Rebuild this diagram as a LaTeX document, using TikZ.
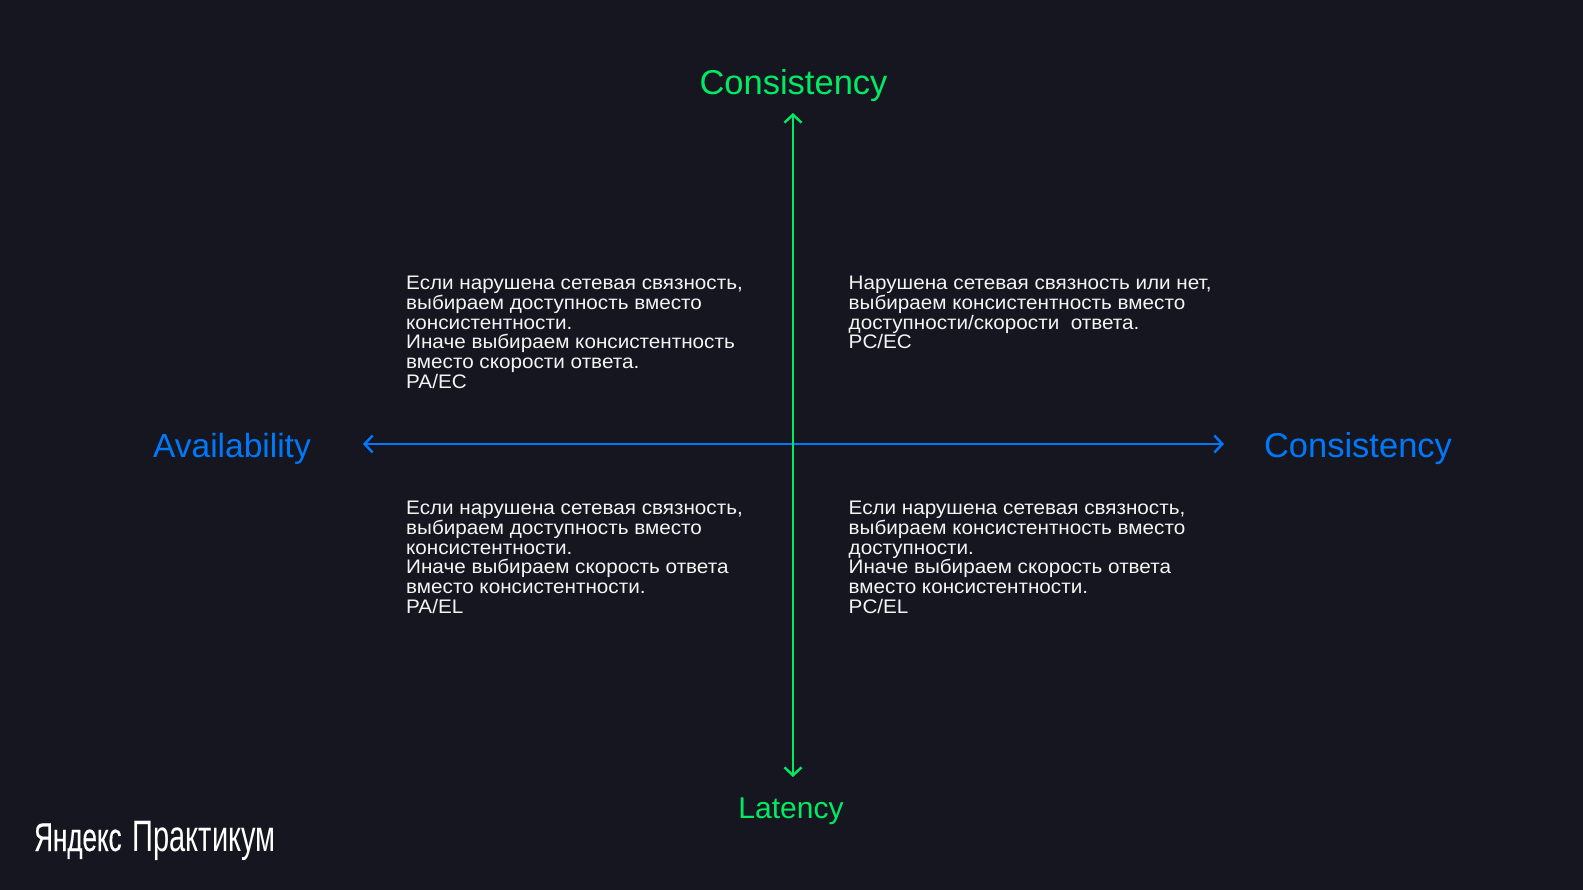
\documentclass[tikz,border=0pt]{standalone}
\usepackage{fontspec}
\setmainfont{Liberation Sans}
\newfontfamily\bodyfont[FakeStretch=1.055]{Liberation Sans}
\newfontfamily\logobold[FakeStretch=0.65,FakeBold=0.3]{Liberation Sans}
\newfontfamily\logolight[FakeStretch=0.66]{Liberation Sans}
\definecolor{bgc}{HTML}{15161F}
\definecolor{grn}{HTML}{00EA64}
\definecolor{blu}{HTML}{0078FA}
\definecolor{txt}{HTML}{F4F4F4}
\usetikzlibrary{arrows.meta}
\tikzset{
  body/.style={anchor=north west,inner sep=0pt,text=txt,font=\bodyfont\fontsize{19.6}{19.7}\selectfont,align=left},
  title/.style={inner sep=0pt,font=\fontsize{34.5}{36}\selectfont},
  axis/.style={line width=2.4pt,{Straight Barb[length=8pt,width=17pt,line width=2.4pt]}-{Straight Barb[length=8pt,width=17pt,line width=2.4pt]}},
}
\begin{document}
\begin{tikzpicture}[x=1pt,y=-1pt]
\path[fill=bgc] (0,0) rectangle (1583,890);
\useasboundingbox (0,0) rectangle (1583,890);
\coordinate (vt) at (793,113);
\coordinate (vb) at (793,777);
\coordinate (hl) at (363,444);
\coordinate (hr) at (1224,444);
\draw[axis,color=blu] (hl) -- (hr);
\draw[axis,color=grn] (vt) -- (vb);
\node[title,text=grn] (ct) at (793.5,86) {Consistency};
\node[title,text=grn,font=\fontsize{30}{32}\selectfont] (lat) at (791,811) {Latency};
\node[title,text=blu,font=\fontsize{33.5}{36}\selectfont] (av) at (232,448.5) {Availability};
\node[title,text=blu] (cr) at (1358,448.5) {Consistency};
\node[body] (q1) at (406,276) {Если нарушена сетевая связность,\\выбираем доступность вместо\\консистентности.\\Иначе выбираем консистентность\\вместо скорости ответа.\\PA/EC};
\node[body] (q2) at (848.5,276) {Нарушена сетевая связность или нет,\\выбираем консистентность вместо\\доступности/скорости\ \ ответа.\\PC/EC};
\node[body] (q3) at (406,501) {Если нарушена сетевая связность,\\выбираем доступность вместо\\консистентности.\\Иначе выбираем скорость ответа\\вместо консистентности.\\PA/EL};
\node[body] (q4) at (848.5,501) {Если нарушена сетевая связность,\\выбираем консистентность вместо\\доступности.\\Иначе выбираем скорость ответа\\вместо консистентности.\\PC/EL};
\node[inner sep=0pt,anchor=base west,text=white,font=\fontsize{40}{40}\selectfont] (logo) at (34,851) {{\logobold Яндекс} {\fontsize{44}{44}\logolight Практикум}};
\end{tikzpicture}
\end{document}
